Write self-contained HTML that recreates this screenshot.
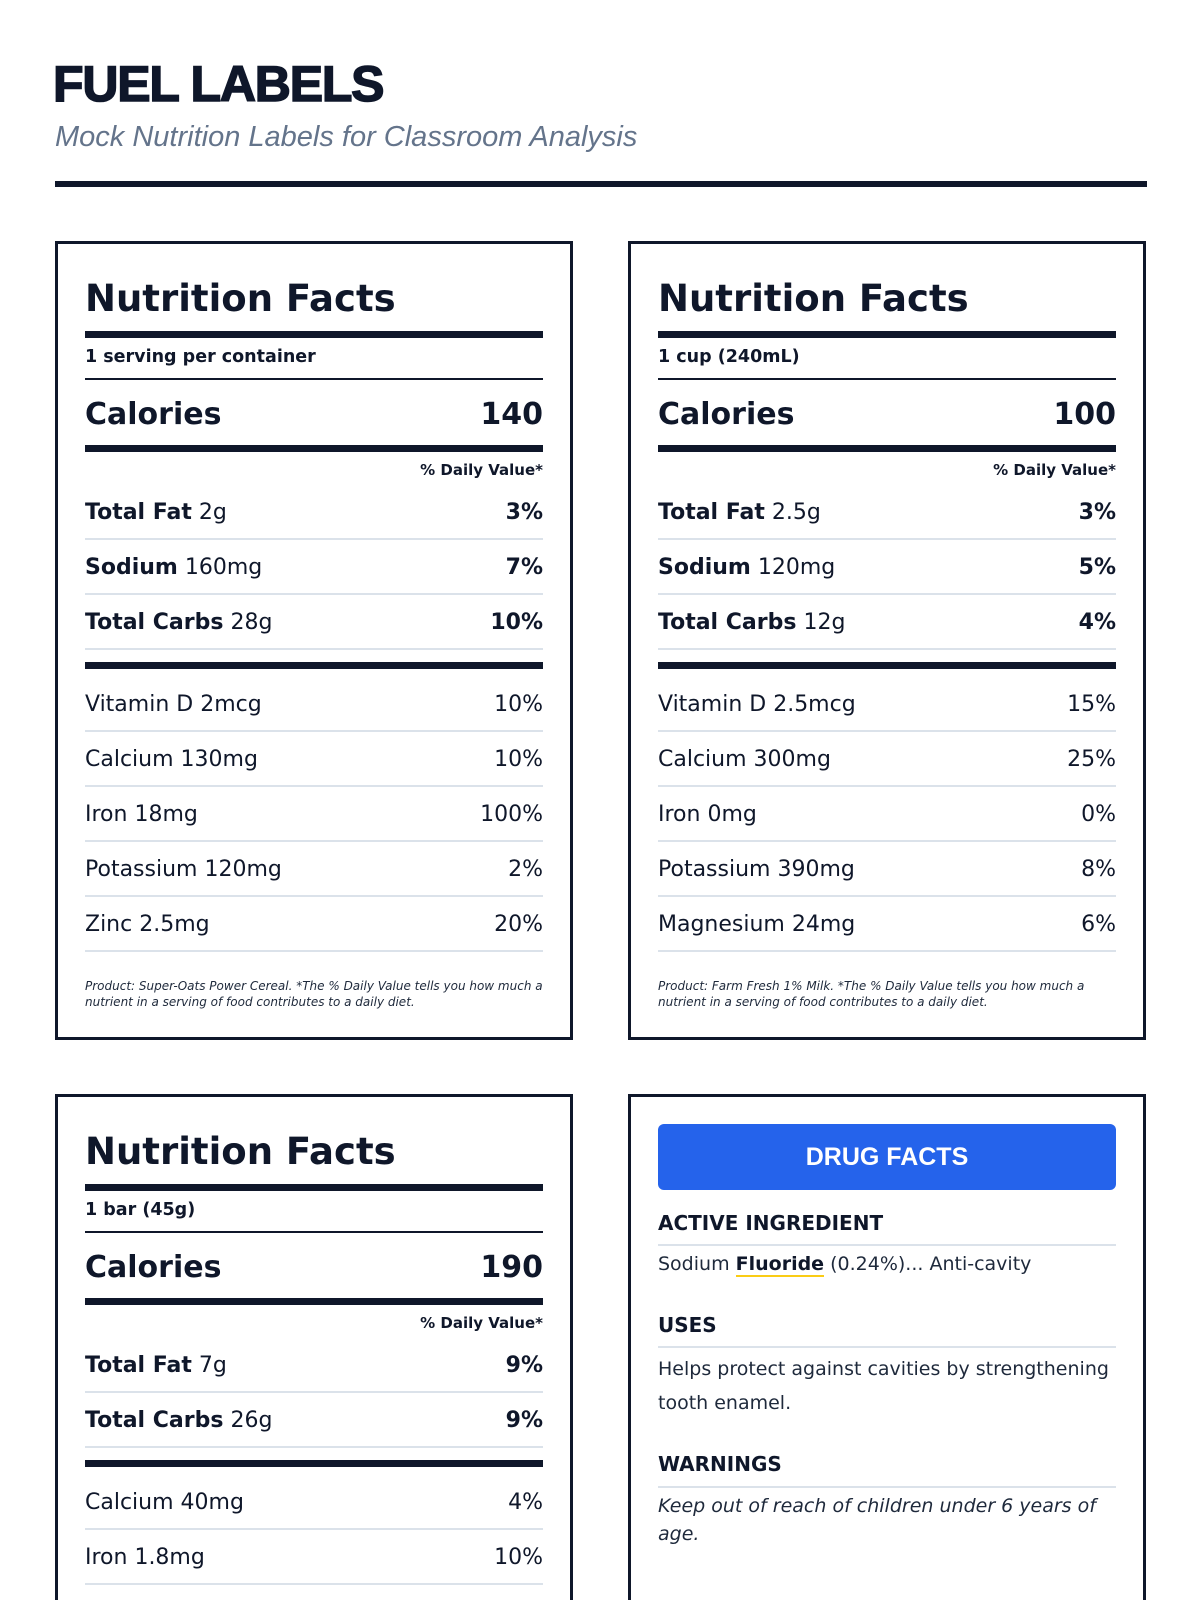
<!DOCTYPE html>
<html><head><meta charset="utf-8"><style>
*{margin:0;padding:0;box-sizing:border-box}
html,body{width:1200px;height:1600px;overflow:hidden}
body{background:#fff;font-family:"Liberation Sans",sans-serif;color:#0f172a;position:relative}
#wrap{position:absolute;left:0;top:0;width:1200px;height:1600px;overflow:hidden}
h1{position:absolute;left:53px;top:56px;font-size:50px;font-weight:900;letter-spacing:-1.2px;line-height:56px;-webkit-text-stroke:1.5px #0f172a}
.sub{position:absolute;left:55px;top:120px;font-size:29px;font-style:italic;color:#64748b;line-height:34px}
.rule{position:absolute;left:55px;top:181px;width:1092px;height:6px;background:#0f172a}
.card{position:absolute;width:518px;border:3px solid #0f172a;background:#fff;overflow:hidden;font-family:"DejaVu Sans",sans-serif}
.c{position:absolute;left:27px;right:27px}
.t{font-size:37px;font-weight:bold;line-height:50px}
.bar{height:7px;background:#0f172a}
.thin{height:2px;background:#0f172a}
.sep{height:2px;background:#dbe2ea}
.row{height:40px;line-height:40px;font-size:22px;display:flex;justify-content:space-between}
.row b{font-weight:bold}
.cal{height:40px;line-height:40px;font-size:30px;font-weight:bold;display:flex;justify-content:space-between}
.srv{font-size:17.5px;font-weight:bold;line-height:24px}
.dv{font-size:15px;font-weight:bold;text-align:right;line-height:20px}
.foot{font-size:12px;font-style:italic;line-height:16px;color:#1e293b}
.blue{background:#2563eb;border-radius:6px;color:#fff;font-weight:bold;font-size:25px;text-align:center;line-height:66px;height:66px;font-family:"Liberation Sans",sans-serif}
.dh{font-size:20px;font-weight:bold;line-height:30px}
.dt{font-size:19px;line-height:34px;color:#1e293b}
.open{height:506px;border-bottom:none}
</style></head><body><div id="wrap">
<h1>FUEL LABELS</h1>
<div class="sub">Mock Nutrition Labels for Classroom Analysis</div>
<div class="rule"></div>

<div class="card" style="left:55px;top:241px;height:799px">
<div class="c t" style="top:30px">Nutrition Facts</div>
<div class="c bar" style="top:87px"></div>
<div class="c srv" style="top:101px">1 serving per container</div>
<div class="c thin" style="top:134px"></div>
<div class="c cal" style="top:151px"><span>Calories</span><span>140</span></div>
<div class="c bar" style="top:201px"></div>
<div class="c dv" style="top:216px">% Daily Value*</div>
<div class="c row" style="top:249px"><span><b>Total Fat</b> 2g</span><b>3%</b></div>
<div class="c sep" style="top:294px"></div>
<div class="c row" style="top:304px"><span><b>Sodium</b> 160mg</span><b>7%</b></div>
<div class="c sep" style="top:349px"></div>
<div class="c row" style="top:359px"><span><b>Total Carbs</b> 28g</span><b>10%</b></div>
<div class="c sep" style="top:404px"></div>
<div class="c bar" style="top:418px"></div>
<div class="c row" style="top:441px"><span>Vitamin D 2mcg</span><span>10%</span></div>
<div class="c sep" style="top:486px"></div>
<div class="c row" style="top:496px"><span>Calcium 130mg</span><span>10%</span></div>
<div class="c sep" style="top:541px"></div>
<div class="c row" style="top:551px"><span>Iron 18mg</span><span>100%</span></div>
<div class="c sep" style="top:596px"></div>
<div class="c row" style="top:606px"><span>Potassium 120mg</span><span>2%</span></div>
<div class="c sep" style="top:651px"></div>
<div class="c row" style="top:661px"><span>Zinc 2.5mg</span><span>20%</span></div>
<div class="c sep" style="top:706px"></div>
<div class="c foot" style="top:734px">Product: Super-Oats Power Cereal. *The % Daily Value tells you how much a nutrient in a serving of food contributes to a daily diet.</div>
</div>

<div class="card" style="left:628px;top:241px;height:799px">
<div class="c t" style="top:30px">Nutrition Facts</div>
<div class="c bar" style="top:87px"></div>
<div class="c srv" style="top:101px">1 cup (240mL)</div>
<div class="c thin" style="top:134px"></div>
<div class="c cal" style="top:151px"><span>Calories</span><span>100</span></div>
<div class="c bar" style="top:201px"></div>
<div class="c dv" style="top:216px">% Daily Value*</div>
<div class="c row" style="top:249px"><span><b>Total Fat</b> 2.5g</span><b>3%</b></div>
<div class="c sep" style="top:294px"></div>
<div class="c row" style="top:304px"><span><b>Sodium</b> 120mg</span><b>5%</b></div>
<div class="c sep" style="top:349px"></div>
<div class="c row" style="top:359px"><span><b>Total Carbs</b> 12g</span><b>4%</b></div>
<div class="c sep" style="top:404px"></div>
<div class="c bar" style="top:418px"></div>
<div class="c row" style="top:441px"><span>Vitamin D 2.5mcg</span><span>15%</span></div>
<div class="c sep" style="top:486px"></div>
<div class="c row" style="top:496px"><span>Calcium 300mg</span><span>25%</span></div>
<div class="c sep" style="top:541px"></div>
<div class="c row" style="top:551px"><span>Iron 0mg</span><span>0%</span></div>
<div class="c sep" style="top:596px"></div>
<div class="c row" style="top:606px"><span>Potassium 390mg</span><span>8%</span></div>
<div class="c sep" style="top:651px"></div>
<div class="c row" style="top:661px"><span>Magnesium 24mg</span><span>6%</span></div>
<div class="c sep" style="top:706px"></div>
<div class="c foot" style="top:734px">Product: Farm Fresh 1% Milk. *The % Daily Value tells you how much a nutrient in a serving of food contributes to a daily diet.</div>
</div>

<div class="card open" style="left:55px;top:1094px">
<div class="c t" style="top:30px">Nutrition Facts</div>
<div class="c bar" style="top:87px"></div>
<div class="c srv" style="top:101px">1 bar (45g)</div>
<div class="c thin" style="top:134px"></div>
<div class="c cal" style="top:151px"><span>Calories</span><span>190</span></div>
<div class="c bar" style="top:201px"></div>
<div class="c dv" style="top:216px">% Daily Value*</div>
<div class="c row" style="top:249px"><span><b>Total Fat</b> 7g</span><b>9%</b></div>
<div class="c sep" style="top:294px"></div>
<div class="c row" style="top:304px"><span><b>Total Carbs</b> 26g</span><b>9%</b></div>
<div class="c sep" style="top:349px"></div>
<div class="c bar" style="top:363px"></div>
<div class="c row" style="top:386px"><span>Calcium 40mg</span><span>4%</span></div>
<div class="c sep" style="top:431px"></div>
<div class="c row" style="top:441px"><span>Iron 1.8mg</span><span>10%</span></div>
<div class="c sep" style="top:486px"></div>
</div>

<div class="card open" style="left:628px;top:1094px">
<div class="c blue" style="top:27px">DRUG FACTS</div>
<div class="c dh" style="top:111px">ACTIVE INGREDIENT</div>
<div class="c sep" style="top:147px"></div>
<div class="c dt" style="top:150px">Sodium <b style="color:#0f172a;border-bottom:2px solid #facc15;line-height:22px;display:inline-block">Fluoride</b> (0.24%)... Anti-cavity</div>
<div class="c dh" style="top:213px">USES</div>
<div class="c sep" style="top:249px"></div>
<div class="c dt" style="top:255px">Helps protect against cavities by strengthening tooth enamel.</div>
<div class="c dh" style="top:352px">WARNINGS</div>
<div class="c sep" style="top:389px"></div>
<div class="c dt" style="top:395px;font-style:italic;line-height:28px">Keep out of reach of children under 6 years of age.</div>
</div>
</div></body></html>
